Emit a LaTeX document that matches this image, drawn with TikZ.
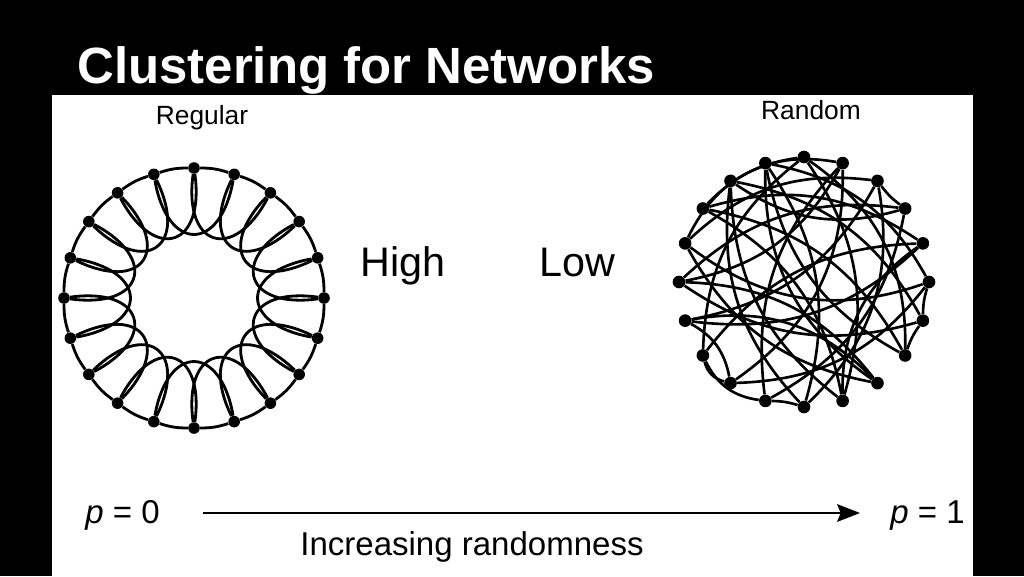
\documentclass[tikz,border=0pt]{standalone}
\usepackage{fontspec}
\setmainfont{Liberation Sans}
\usetikzlibrary{arrows.meta, positioning}

\begin{document}
\begin{tikzpicture}[x=0.02cm, y=0.02cm, >=Stealth,
  dot/.style={circle, fill=black, inner sep=0pt, minimum size=6.6pt},
  bigdot/.style={circle, fill=black, inner sep=0pt, minimum size=7.2pt},
  link/.style={line width=1.6pt},
  chord/.style={line width=1.5pt},
  label/.style={inner sep=0pt, anchor=base west}]
  % slide background and white panel
  \fill[black] (0,0) rectangle (1024,576);
  \fill[white] (52,0) rectangle (973,481);
  \useasboundingbox (0,0) rectangle (1024,576);
  \node[label, text=white, font=\fontsize{29}{34}\selectfont\bfseries] (title) at (77,493) {Clustering for Networks};
  % regular ring lattice
  \begin{scope}[shift={(194,278)}]
    \foreach \i in {0,...,19}{
      \node[dot] (r\i) at (90-18*\i:130) {};
    }
    \foreach \i in {0,...,19}{
      \pgfmathtruncatemacro\j{mod(\i+1,20)}
      \pgfmathtruncatemacro\k{mod(\i+2,20)}
      \pgfmathtruncatemacro\ao{270-18*\i-8}
      \pgfmathtruncatemacro\ai{270-18*\k+8}
      \draw[link] (r\i) to[bend left=9] (r\j);
      \draw[link] (r\i) to[out=\ao, in=\ai, looseness=2.4] (r\k);
    }
  \end{scope}
  \node[font=\fontsize{15}{18}\selectfont] (reglabel) at (202,458) {Regular};
  % random graph
  \begin{scope}[shift={(804,294)}]
    \foreach \i in {0,...,19}{
      \node[bigdot] (q\i) at (90-18*\i:125) {};
    }
    \foreach \a/\b/\s in {2/3/-8, 5/6/-8, 6/7/-8, 10/11/-8,
        0/9/25, 0/13/-25, 0/7/28, 0/16/-28, 1/11/-25, 1/15/25, 1/17/-28, 1/12/28,
        2/14/25, 2/16/-25, 2/10/28, 3/18/25, 3/15/-25, 3/11/25, 4/17/-25, 4/14/25,
        4/9/-28, 4/13/-25, 5/16/28, 5/19/-25, 5/12/25, 6/18/-25, 6/15/25, 7/17/-25,
        7/19/25, 8/19/28, 8/15/-25, 8/16/25, 8/14/-28, 9/18/25, 9/17/-25, 10/19/-25,
        10/18/25, 11/13/28, 12/14/-25, 12/13/30}{
      \draw[chord] (q\a) to[bend left=\s] (q\b);
    }
  \end{scope}
  \node[font=\fontsize{15}{18}\selectfont] (randlabel) at (811,466) {Random};
  % clustering levels
  \node[label, font=\fontsize{23.5}{28}\selectfont] (high) at (360,300) {High};
  \node[label, font=\fontsize{23.5}{28}\selectfont] (low) at (539,300) {Low};
  % rewiring probability axis
  \node[label, font=\fontsize{18.8}{22}\selectfont] (pzero) at (85,53) {\textit{p} = 0};
  \node[label, font=\fontsize{18.8}{22}\selectfont] (pone) at (890,53) {\textit{p} = 1};
  \coordinate (axstart) at (203,63);
  \coordinate (axend) at (860,63);
  \draw[line width=1.2pt, -{Stealth[length=13pt, width=10pt, inset=2pt]}] (axstart) -- (axend);
  \node[label, font=\fontsize{18.8}{22}\selectfont] (randomness) at (300,21) {Increasing randomness};
\end{tikzpicture}
\end{document}
